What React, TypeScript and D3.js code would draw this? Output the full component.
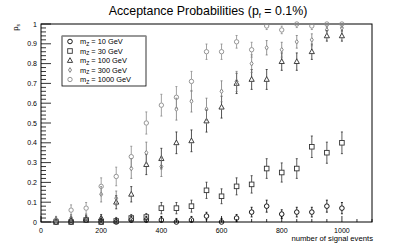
import React from 'react';
import * as d3 from 'd3';

// number of signal events for every point
const nEvents = [50, 100, 150, 200, 250, 300, 350, 400, 450, 500, 550, 600, 650, 700, 750, 800, 850, 900, 950, 1000];

// acceptance per Z' mass
const acc10 = [0, 0, 0.01, 0, 0, 0.01, 0.01, 0.01, 0, 0.01, 0.03, 0, 0.02, 0.05, 0.08, 0.04, 0.05, 0.05, 0.08, 0.07];
const acc30 = [0, 0, 0.01, 0, 0.005, 0.02, 0.025, 0.07, 0.07, 0.08, 0.16, 0.13, 0.18, 0.19, 0.27, 0.25, 0.27, 0.38, 0.35, 0.4];
const acc100 = [0.01, 0.01, 0.015, 0.02, 0.1, 0.14, 0.29, 0.32, 0.4, 0.41, 0.51, 0.58, 0.7, 0.72, 0.72, 0.81, 0.81, 0.86, 0.94, 0.94];
const acc300 = [0.01, 0.02, 0.02, 0.14, 0.12, 0.27, 0.35, 0.28, 0.57, 0.61, 0.57, 0.66, 0.71, 0.8, 0.88, 0.87, 0.91, 0.92, 0.97, 0.98];
const acc1000 = [0.01, 0.06, 0.07, 0.18, 0.23, 0.33, 0.5, 0.59, 0.63, 0.71, 0.86, 0.86, 0.91, 0.87, 0.99, 0.97, 1, 0.99, 1, 1];

const massLabels = ['10', '30', '100', '300', '1000'];
const xLabels = [0, 200, 400, 600, 800, 1000];
const yLabels = [0, 0.1, 0.2, 0.3, 0.4, 0.5, 0.6, 0.7, 0.8, 0.9, 1];

const trials = 80; // pseudo-experiments per point, for binomial error bars

const W = 415, H = 247;
const x = d3.scaleLinear().domain([0, 1100]).range([41, 372]);
const y = d3.scaleLinear().domain([0, 1]).range([222, 24]);

const FONT = '"Liberation Sans", Arial, sans-serif';

type Shape = 'circle' | 'square' | 'triangle' | 'diamond' | 'gcircle';
const series: { vals: number[]; shape: Shape; color: string }[] = [
  { vals: acc10, shape: 'circle', color: '#000' },
  { vals: acc30, shape: 'square', color: '#333' },
  { vals: acc100, shape: 'triangle', color: '#2a2a2a' },
  { vals: acc300, shape: 'diamond', color: '#7a7a7a' },
  { vals: acc1000, shape: 'gcircle', color: '#8a8a8a' },
];

function marker(shape: Shape, cx: number, cy: number, color: string, key?: string) {
  const p = { fill: 'none', stroke: color, strokeWidth: 0.9 };
  switch (shape) {
    case 'circle':
      return <circle key={key} cx={cx} cy={cy} r={2.3} {...p} />;
    case 'gcircle':
      return <circle key={key} cx={cx} cy={cy} r={2.2} {...p} />;
    case 'square':
      return <rect key={key} x={cx - 2.3} y={cy - 2.3} width={4.6} height={4.6} {...p} />;
    case 'triangle':
      return <path key={key} d={`M${cx},${cy - 2.8}L${cx + 2.6},${cy + 1.9}L${cx - 2.6},${cy + 1.9}Z`} {...p} />;
    case 'diamond':
      return <path key={key} d={`M${cx},${cy - 2.4}L${cx + 1.5},${cy}L${cx},${cy + 2.4}L${cx - 1.5},${cy}Z`} {...p} />;
  }
}

export default function App() {
  const xMinor = d3.range(0, 1101, 50);
  const yMinor = d3.range(0, 1.0001, 0.02);

  return (
    <svg width={W} height={H} style={{ position: 'absolute', left: 0, top: 0, background: '#fff' }}
      fontFamily={FONT}>
      <rect width={W} height={H} fill="#fff" />

      {/* title */}
      <text x={208} y={15} textAnchor="middle" fontSize={12.4}>
        Acceptance Probabilities (p<tspan fontSize={7.5} dy={2.5}>f</tspan><tspan dy={-2.5}> = 0.1%)</tspan>
      </text>

      {/* frame */}
      <rect x={x(0)} y={y(1)} width={x(1100) - x(0)} height={y(0) - y(1)} fill="none" stroke="#000" strokeWidth={1} />

      {/* x ticks */}
      {xMinor.map(v => (
        <line key={'xt' + v} x1={x(v)} x2={x(v)} y1={y(0)} y2={y(0) - (v % 200 === 0 ? 6 : 3)} stroke="#000" strokeWidth={0.8} />
      ))}
      {xLabels.map(v => (
        <text key={'xl' + v} x={x(v)} y={233} textAnchor="middle" fontSize={7}>{v}</text>
      ))}
      <text x={373} y={241} textAnchor="end" fontSize={7.7}>number of signal events</text>

      {/* y ticks */}
      {yMinor.map((v, i) => (
        <line key={'yt' + i} x1={x(0)} x2={x(0) + (i % 5 === 0 ? 10 : 5)} y1={y(v)} y2={y(v)} stroke="#000" strokeWidth={0.8} />
      ))}
      {yLabels.map(v => (
        <text key={'yl' + v} x={37} y={y(v) + 2.5} textAnchor="end" fontSize={7}>{d3.format('~g')(v)}</text>
      ))}
      <text transform="translate(18,24) rotate(-90)" textAnchor="end" fontSize={7.6}>
        p<tspan fontSize={5} dy={1.8}>s</tspan>
      </text>

      {/* data */}
      {series.map((s, si) => (
        <g key={'s' + si}>
          {s.vals.map((p, i) => {
            const e = Math.max(Math.sqrt(p * (1 - p) / trials), 0.018);
            const lo = Math.max(0, p - e), hi = Math.min(1, p + e);
            const cx = x(nEvents[i]), cy = y(p);
            const gap = 2.4;
            return (
              <g key={i}>
                {y(hi) < cy - gap && <line x1={cx} x2={cx} y1={y(hi)} y2={cy - gap} stroke={s.color} strokeWidth={0.8} />}
                {y(lo) > cy + gap && <line x1={cx} x2={cx} y1={cy + gap} y2={y(lo)} stroke={s.color} strokeWidth={0.8} />}
                <line x1={cx - 1} x2={cx + 1} y1={y(hi)} y2={y(hi)} stroke={s.color} strokeWidth={0.8} />
                <line x1={cx - 1} x2={cx + 1} y1={y(lo)} y2={y(lo)} stroke={s.color} strokeWidth={0.8} />
                {marker(s.shape, cx, cy, s.color)}
              </g>
            );
          })}
        </g>
      ))}

      {/* legend */}
      <rect x={62} y={36} width={84} height={50} fill="#fff" stroke="#000" strokeWidth={0.8} />
      <line x1={62} x2={146} y1={36} y2={36} stroke="#999" strokeWidth={1.4} />
      {series.map((s, i) => {
        const ly = 41.5 + i * 9.5;
        return (
          <g key={'lg' + i}>
            {marker(s.shape, 70, ly, s.color)}
            <text x={80} y={ly + 2.6} fontSize={7.4}>
              m<tspan fontSize={5} dy={1.6}>Z</tspan><tspan dy={-1.6}> = {massLabels[i]} GeV</tspan>
            </text>
          </g>
        );
      })}
    </svg>
  );
}
